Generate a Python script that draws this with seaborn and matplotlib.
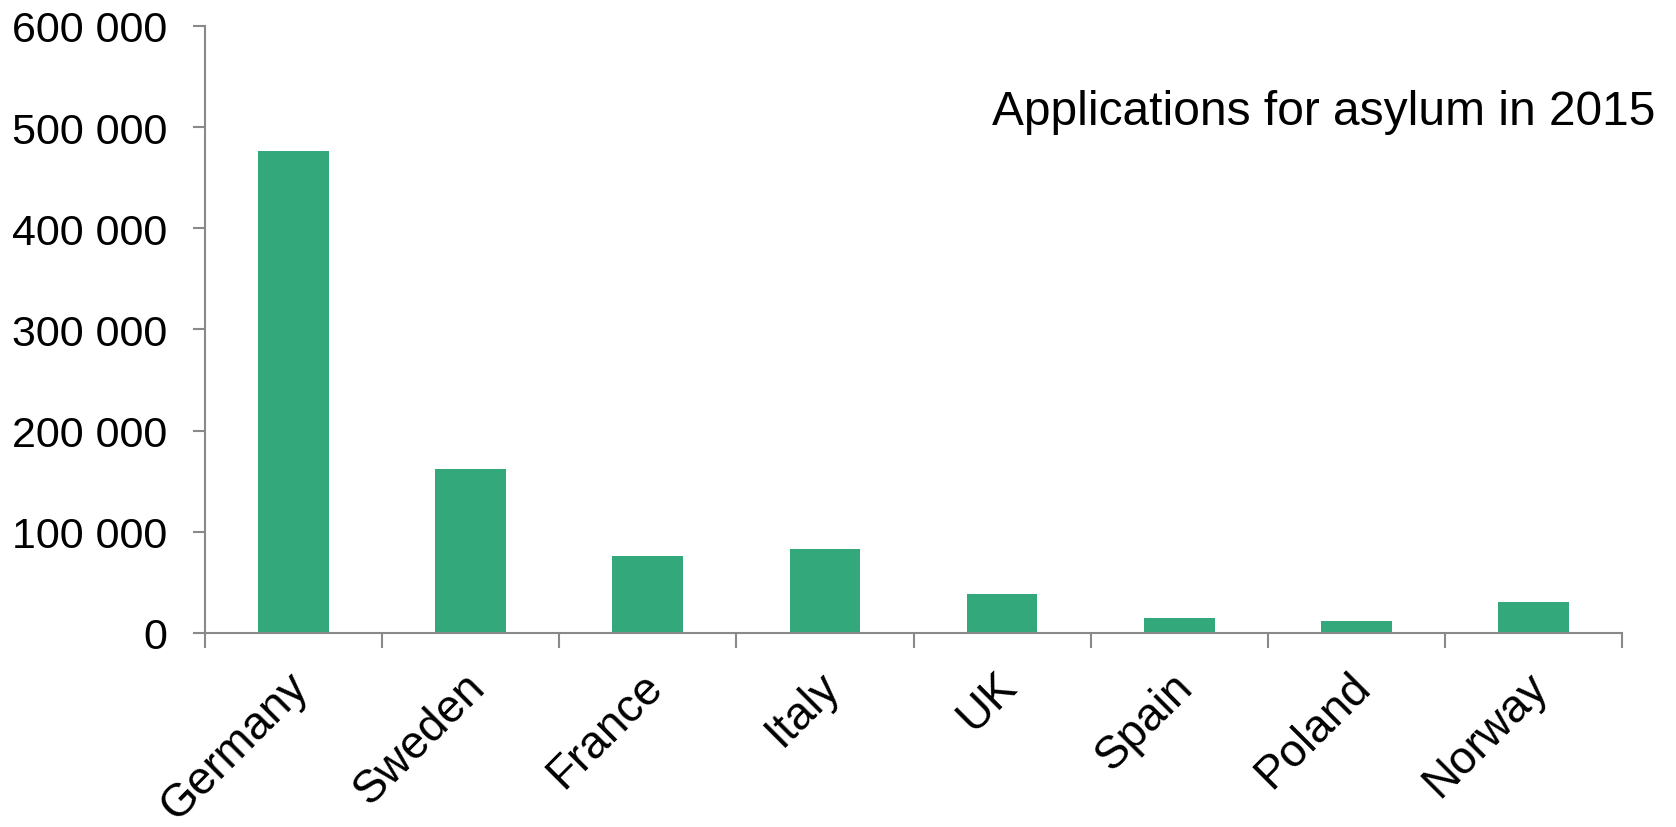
import pandas as pd
import matplotlib
matplotlib.use('Agg')
import matplotlib.pyplot as plt
from matplotlib.ticker import FuncFormatter, FixedLocator
from matplotlib.transforms import ScaledTranslation
import seaborn as sns

# data
countries = ['Germany', 'Sweden', 'France', 'Italy', 'UK', 'Spain', 'Poland', 'Norway']
applications = [476500, 162500, 76200, 83500, 38800, 14800, 12200, 31100]

df = pd.DataFrame({'country': countries, 'applications': applications})

sns.set_style('white')
plt.rcParams['font.family'] = ['Liberation Sans', 'DejaVu Sans']
plt.rcParams['text.color'] = 'black'
plt.rcParams['xtick.color'] = 'black'
plt.rcParams['ytick.color'] = 'black'

bar_color = '#33A97B'
axis_color = '#898989'

fig = plt.figure(figsize=(16.76, 8.28), dpi=100)
ax = fig.add_axes([0.1223, 0.2343, 0.8455, 0.7331])

sns.barplot(x='country', y='applications', data=df, color=bar_color,
            saturation=1, width=0.4, linewidth=0, ax=ax)

ax.set_xlim(-0.5, len(countries) - 0.5)
ax.set_ylim(0, 600000)
ax.set_yticks(range(0, 600001, 100000))
ax.yaxis.set_major_formatter(FuncFormatter(lambda v, p: f'{int(v):,}'.replace(',', ' ')))

# ticks between categories, labels at centres
ax.xaxis.set_minor_locator(FixedLocator([i - 0.5 for i in range(len(countries) + 1)]))
ax.tick_params(axis='x', which='major', length=0, pad=22, labelsize=33, labelcolor='black')
ax.tick_params(axis='x', which='minor', length=11, width=1.5, color=axis_color, direction='out')
ax.tick_params(axis='y', length=9, width=1.5, color=axis_color, direction='out', pad=18,
               labelsize=31, labelcolor='black')
ax.xaxis.set_ticks_position('bottom')
ax.yaxis.set_ticks_position('left')
shift = ScaledTranslation(-8 / 100, 0, fig.dpi_scale_trans)
for lbl in ax.get_xticklabels():
    lbl.set_rotation(45)
    lbl.set_ha('right')
    lbl.set_rotation_mode('anchor')
    lbl.set_transform(lbl.get_transform() + shift)

for s in ['top', 'right']:
    ax.spines[s].set_visible(False)
for s in ['left', 'bottom']:
    ax.spines[s].set_color(axis_color)
    ax.spines[s].set_linewidth(1.5)

ax.set_xlabel('')
ax.set_ylabel('')

fig.text(0.9875, 1 - 125 / 828, 'Applications for asylum in 2015', ha='right', va='baseline',
         fontsize=34.5, color='black')

fig.savefig('out.png', dpi=100)
